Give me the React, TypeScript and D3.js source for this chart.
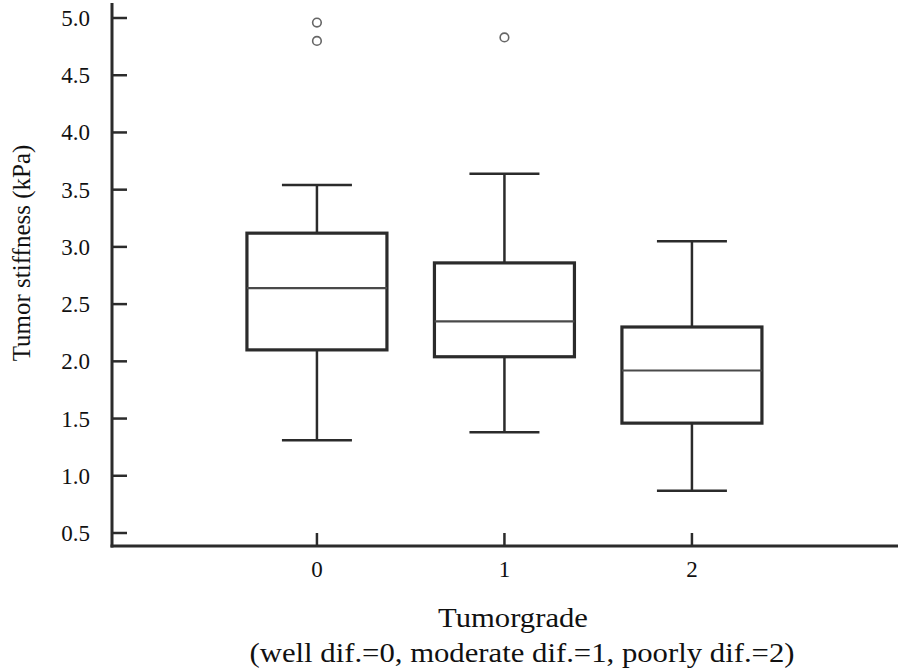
import React from "react";
import * as d3 from "d3";

const categories = [0, 1, 2];
const categoryLabels = ["0", "1", "2"];
const whiskerLow = [1.31, 1.38, 0.87];
const q1 = [2.10, 2.04, 1.46];
const median = [2.64, 2.35, 1.92];
const q3 = [3.12, 2.86, 2.30];
const whiskerHigh = [3.54, 3.64, 3.05];
const outliers = [[4.96, 4.80], [4.83], []];
const yTicks = [0.5, 1.0, 1.5, 2.0, 2.5, 3.0, 3.5, 4.0, 4.5, 5.0];

const yTitle = "Tumor stiffness (kPa)";
const xTitle1 = "Tumorgrade";
const xTitle2 = "(well dif.=0, moderate dif.=1, poorly dif.=2)";

const W = 900;
const H = 669;
const axisX = 112;
const axisY = 546;
const axisTop = 3;
const axisRight = 898;

export default function App() {
  const x = d3.scaleLinear().domain([-1.093, 3.099]).range([axisX, axisRight]);
  const y = d3.scaleLinear().domain([0.5, 5.0]).range([533, 18]);
  const boxHalf = 70;
  const capHalf = 35;
  const dark = "#2b2b2b";
  const font = '"Liberation Serif", "Times New Roman", serif';
  const ts = { fontFamily: font };

  return (
    <svg
      width={W}
      height={H}
      style={{ position: "absolute", left: 0, top: 0, background: "#fff" }}
    >
      <rect x={0} y={0} width={W} height={H} fill="#fff" />
      {/* y axis */}
      <line x1={axisX} x2={axisX} y1={axisTop} y2={axisY + 1.5} stroke={dark} strokeWidth={3} />
      {yTicks.map((t) => (
        <g key={t}>
          <line x1={axisX} x2={axisX + 15} y1={y(t)} y2={y(t)} stroke={dark} strokeWidth={2.5} />
          <text x={90} y={y(t)} dy="0.35em" textAnchor="end" fontSize={23} fill="#111" style={ts}>
            {t.toFixed(1)}
          </text>
        </g>
      ))}
      {/* x axis */}
      <line x1={axisX - 1.5} x2={axisRight} y1={axisY} y2={axisY} stroke={dark} strokeWidth={3} />
      {categories.map((c, i) => (
        <g key={c}>
          <line x1={x(c)} x2={x(c)} y1={axisY} y2={axisY - 13} stroke={dark} strokeWidth={2.5} />
          <text x={x(c)} y={577} textAnchor="middle" fontSize={23} fill="#111" style={ts}>
            {categoryLabels[i]}
          </text>
        </g>
      ))}
      {/* boxes */}
      {categories.map((c, i) => {
        const cx = x(c);
        return (
          <g key={"b" + c}>
            <line x1={cx} x2={cx} y1={y(whiskerHigh[i])} y2={y(q3[i])} stroke={dark} strokeWidth={2.5} />
            <line x1={cx} x2={cx} y1={y(q1[i])} y2={y(whiskerLow[i])} stroke={dark} strokeWidth={2.5} />
            <line x1={cx - capHalf} x2={cx + capHalf} y1={y(whiskerHigh[i])} y2={y(whiskerHigh[i])} stroke={dark} strokeWidth={2.5} />
            <line x1={cx - capHalf} x2={cx + capHalf} y1={y(whiskerLow[i])} y2={y(whiskerLow[i])} stroke={dark} strokeWidth={2.5} />
            <rect
              x={cx - boxHalf}
              y={y(q3[i])}
              width={boxHalf * 2}
              height={y(q1[i]) - y(q3[i])}
              fill="#fff"
              stroke={dark}
              strokeWidth={3.2}
            />
            <line x1={cx - boxHalf} x2={cx + boxHalf} y1={y(median[i])} y2={y(median[i])} stroke="#4a4a4a" strokeWidth={2.2} />
            {outliers[i].map((o, j) => (
              <circle key={j} cx={cx} cy={y(o)} r={4.3} fill="none" stroke="#666" strokeWidth={1.6} />
            ))}
          </g>
        );
      })}
      {/* titles */}
      <text
        transform={`translate(30, 253) rotate(-90)`}
        textAnchor="middle"
        fontSize={25}
        fill="#111"
        style={ts}
      >
        {yTitle}
      </text>
      <text x={513} y={627} textAnchor="middle" fontSize={27} fill="#111" style={ts}
        textLength={150} lengthAdjust="spacingAndGlyphs">
        {xTitle1}
      </text>
      <text x={522} y={662} textAnchor="middle" fontSize={27} fill="#111" style={ts}
        textLength={545} lengthAdjust="spacingAndGlyphs">
        {xTitle2}
      </text>
    </svg>
  );
}
